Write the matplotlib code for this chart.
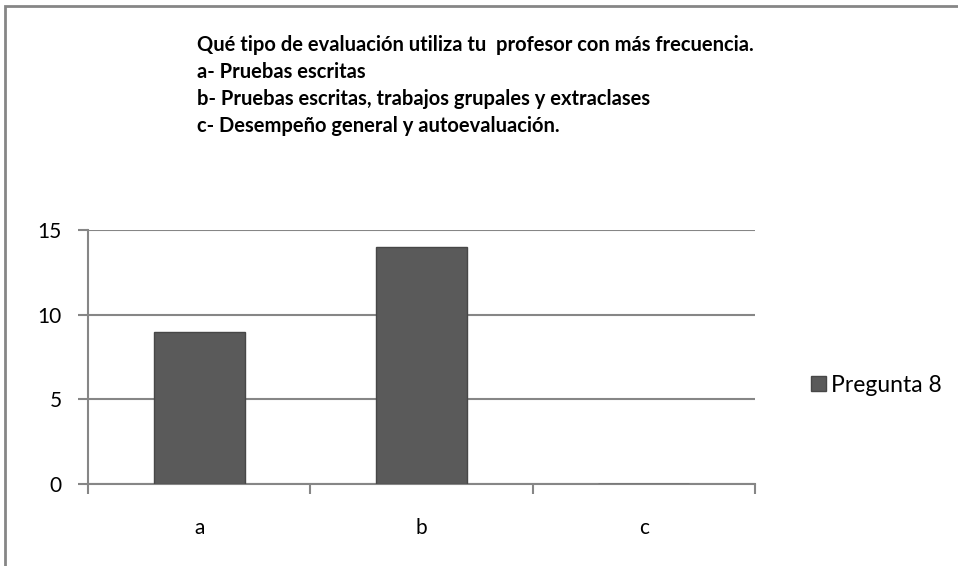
import matplotlib
matplotlib.use("Agg")
import matplotlib.pyplot as plt
from matplotlib.patches import Rectangle

categories = ["a", "b", "c"]
values = [9, 14, 0]
series_name = "Pregunta 8"
title_lines = [
    "Qué tipo de evaluación utiliza tu  profesor con más frecuencia.",
    "a- Pruebas escritas",
    "b- Pruebas escritas, trabajos grupales y extraclases",
    "c- Desempeño general y autoevaluación.",
]
yticks = [0, 5, 10, 15]

W, H = 958, 566
fig = plt.figure(figsize=(W / 100, H / 100), dpi=100)
fig.patch.set_facecolor("white")

FONT = ["Lato", "DejaVu Sans"]
grey = "#868686"

# outer chart frame (extends beyond right/bottom)
fig.patches.append(Rectangle((5 / W, -0.1), 1.2, 1 - 6 / H + 0.1, transform=fig.transFigure,
                             fill=False, edgecolor=grey, linewidth=2))

ax = fig.add_axes([88 / W, 1 - 484 / H, (755 - 88) / W, (484 - 230) / H])
x = range(len(categories))
ax.bar(x, values, width=0.41, color="#5a5a5a", edgecolor="#474747", linewidth=1, zorder=3,
       label=series_name)
ax.set_xlim(-0.5, 2.5)
ax.set_ylim(0, 15)
ax.set_yticks(yticks)
ax.set_yticklabels([str(v) for v in yticks], fontsize=15, family=FONT)
ax.yaxis.grid(True, color=grey, linewidth=1.5, zorder=0)
ax.set_axisbelow(True)
for s in ["top", "right"]:
    ax.spines[s].set_visible(False)
for s in ["left", "bottom"]:
    ax.spines[s].set_color(grey)
    ax.spines[s].set_linewidth(1.5)
ax.tick_params(axis="y", length=7, width=1.5, color=grey, pad=12)
ax.set_xticks([-0.5, 0.5, 1.5, 2.5], minor=False)
ax.set_xticklabels([])
ax.tick_params(axis="x", length=7, width=1.5, color=grey, direction="out")
for i, c in enumerate(categories):
    ax.text(i, -44 / 254, c, transform=ax.get_xaxis_transform(), ha="center", va="center",
            fontsize=15, family=FONT)

leg = fig.legend(loc="center left", bbox_to_anchor=(790 / W, 1 - 385 / H), frameon=False,
                 prop={"family": FONT, "size": 16.5}, handlelength=0.65, handleheight=0.65,
                 handletextpad=0.25)

for i, line in enumerate(title_lines):
    fig.text(197 / W, 1 - (45 + 27 * i) / H, line, ha="left", va="center", fontsize=14.5,
             fontweight="bold", family=FONT)

fig.savefig("out.png", dpi=100)
